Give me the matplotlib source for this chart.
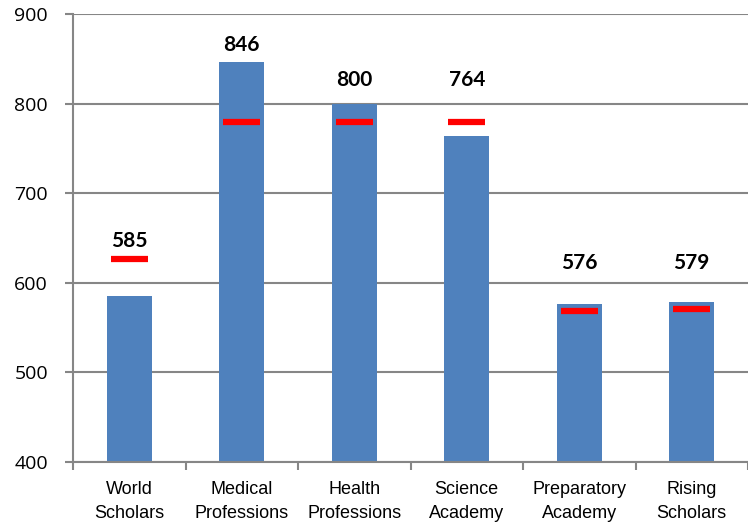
import numpy as np
import matplotlib.pyplot as plt

# data
programs = ["World\nScholars", "Medical\nProfessions", "Health\nProfessions",
            "Science\nAcademy", "Preparatory\nAcademy", "Rising\nScholars"]
scores = [585, 846, 800, 764, 576, 579]
targets = [627, 779, 780, 779, 569, 571]
label_y = [647, 865, 826, 826, 622, 622]

grid_col = "#868686"

fig = plt.figure(figsize=(7.48, 5.27), dpi=100)
ax = fig.add_axes([73 / 748, 1 - 462 / 527, 1 - 73 / 748, (462 - 14) / 527])

x = np.arange(len(programs))
ax.bar(x, scores, width=0.40, color="#4F81BD", zorder=2)
ax.hlines(targets, x - 0.165, x + 0.165, colors="#FF0000", lw=4.5, zorder=3)

for xi, v, ly in zip(x, scores, label_y):
    ax.text(xi, ly, str(v), ha="center", va="center", fontsize=15,
            fontweight="bold", family="Lato", color="black")

ax.set_ylim(400, 900)
ax.set_xlim(-0.5, -0.5 + 675 / 114.7)
ax.set_yticks(range(400, 901, 100))
ax.yaxis.grid(True, color=grid_col, lw=1.5, zorder=0)
ax.set_axisbelow(True)

ax.set_xticks(np.arange(-0.5, len(programs) + 0.5, 1))
ax.set_xticklabels([])
ax.set_xticks(x, minor=True)
ax.set_xticklabels(programs, minor=True, family="Liberation Sans",
                   fontsize=13, linespacing=1.5)
ax.tick_params(axis="x", which="minor", length=0, pad=14)
ax.tick_params(axis="x", which="major", length=6, width=1.5, color=grid_col)
ax.tick_params(axis="y", length=6, width=1.5, color=grid_col, pad=12)
for lab in ax.get_yticklabels():
    lab.set_family("Open Sans")
    lab.set_fontsize(14)

for s in ["top", "right"]:
    ax.spines[s].set_visible(False)
for s in ["left", "bottom"]:
    ax.spines[s].set_color(grid_col)
    ax.spines[s].set_linewidth(1.5)

fig.savefig("out.png", dpi=100)
